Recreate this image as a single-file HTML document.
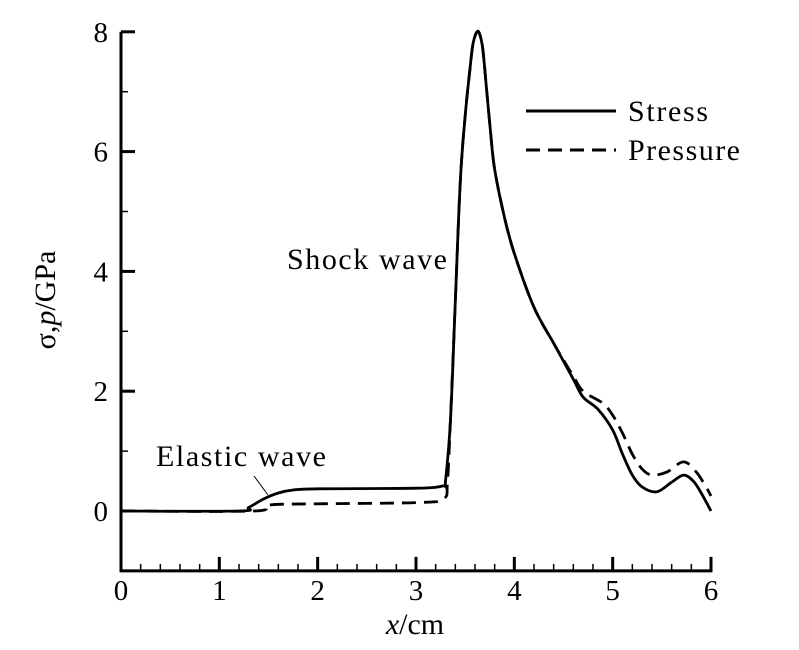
<!DOCTYPE html>
<html><head><meta charset="utf-8"><style>
body{margin:0;background:#fff}
svg{display:block;font-family:"Liberation Serif",serif}
</style></head><body>
<svg id="chart" width="799" height="650">
<g id="axes"></g><g id="series"></g>
<text x="287" y="269" font-size="30" textLength="160">Shock wave</text>
<text x="156" y="466" font-size="30" textLength="170">Elastic wave</text>
<line x1="254" y1="476" x2="268" y2="495" stroke="#000" stroke-width="1"/>
<line x1="526" y1="111" x2="616" y2="111" stroke="#000" stroke-width="3"/>
<text x="628" y="121" font-size="30" textLength="80">Stress</text>
<line x1="526" y1="150" x2="616" y2="150" stroke="#000" stroke-width="3" stroke-dasharray="14,8"/>
<text x="628" y="160" font-size="30" textLength="112">Pressure</text>
<text x="415" y="634" font-size="30" text-anchor="middle"><tspan font-style="italic">x</tspan>/cm</text>
<text transform="translate(55,300) rotate(-90)" font-size="30" text-anchor="middle">σ,<tspan font-style="italic">p</tspan>/GPa</text>
</svg>
<script>
const xTicks=[0,1,2,3,4,5,6];
const yTicks=[0,2,4,6,8];
const stressX=[0,1.2,1.3,1.45,1.6,1.75,2.0,3.0,3.28,3.3,3.35,3.4,3.45,3.5,3.55,3.58,3.62,3.65,3.68,3.72,3.76,3.8,3.9,4.0,4.2,4.4,4.6,4.7,4.85,5.0,5.1,5.2,5.3,5.45,5.6,5.72,5.82,5.9,6.0];
const stressY=[0,0,0.06,0.2,0.3,0.35,0.37,0.38,0.42,0.5,1.5,3.5,5.5,6.6,7.4,7.8,8.0,7.95,7.7,7.0,6.3,5.7,4.9,4.3,3.4,2.8,2.2,1.9,1.7,1.35,0.95,0.6,0.4,0.32,0.48,0.6,0.5,0.3,0.0];
const pressX=[0,1.35,1.5,2.0,3.0,3.28,3.32,3.35,3.4,3.45,3.5,3.55,3.58,3.62,3.65,3.68,3.72,3.76,3.8,3.9,4.0,4.2,4.4,4.6,4.7,4.9,5.0,5.1,5.2,5.3,5.4,5.55,5.72,5.85,5.95,6.0];
const pressY=[0,0,0.1,0.12,0.14,0.2,0.5,1.5,3.5,5.5,6.6,7.4,7.8,8.0,7.95,7.7,7.0,6.3,5.7,4.9,4.3,3.4,2.8,2.25,2.0,1.8,1.6,1.3,0.95,0.7,0.6,0.65,0.82,0.65,0.4,0.25];
const NS="http://www.w3.org/2000/svg";
const X0=121,X1=711,Y0=511,PY=59.9;
const sx=v=>X0+(v-0)*(X1-X0)/6;
const sy=v=>Y0-v*PY;
const ax=document.getElementById('axes'),se=document.getElementById('series');
function mk(tag,at,parent){const e=document.createElementNS(NS,tag);for(const k in at)e.setAttribute(k,at[k]);parent.appendChild(e);return e;}
let e=mk('path',{d:`M${X0},${sy(8)}V${sy(-1)}H${X1}V${sy(-1)-8}`,fill:'none',stroke:'#000','stroke-width':3},ax);


for(let i=0;i<=30;i++){const v=i*0.2;const major=i%5===0;
 e=mk('line',{x1:sx(v),x2:sx(v),y1:sy(-1),y2:sy(-1)-(major?14:7),stroke:'#000','stroke-width':major?3:1.5},ax);
 
 }
xTicks.forEach(v=>{e=mk('text',{x:sx(v),y:sy(-1)+29,'font-size':29,'text-anchor':'middle'},ax);e.textContent=v;
 
 });
for(let v=-1;v<=8;v++){const major=v%2===0;
 e=mk('line',{x1:X0,x2:X0+(major?14:7),y1:sy(v),y2:sy(v),stroke:'#000','stroke-width':major?3:1.5},ax);
 
 }
yTicks.forEach(v=>{e=mk('text',{x:X0-13,y:sy(v)+10,'font-size':29,'text-anchor':'end'},ax);e.textContent=v;
 
 });
function line(xs,ys,dash,name){
 const P=xs.map((x,i)=>[sx(x),sy(ys[i])]);
 let d='M'+P[0][0].toFixed(1)+','+P[0][1].toFixed(1);
 for(let i=0;i<P.length-1;i++){const p0=P[Math.max(0,i-1)],p1=P[i],p2=P[i+1],p3=P[Math.min(P.length-1,i+2)];
  const c1=[p1[0]+(p2[0]-p0[0])/6,p1[1]+(p2[1]-p0[1])/6],c2=[p2[0]-(p3[0]-p1[0])/6,p2[1]-(p3[1]-p1[1])/6];
  d+=`C${c1[0].toFixed(1)},${c1[1].toFixed(1)} ${c2[0].toFixed(1)},${c2[1].toFixed(1)} ${p2[0].toFixed(1)},${p2[1].toFixed(1)}`;}
 const p=mk('path',{d,fill:'none',stroke:'#000','stroke-width':2.8,'stroke-linejoin':'round'},se);
 if(dash)p.setAttribute('stroke-dasharray','14,8');
 
 }
line(pressX,pressY,true,'pressure-line');
line(stressX,stressY,false,'stress-line');
</script>
</body></html>
